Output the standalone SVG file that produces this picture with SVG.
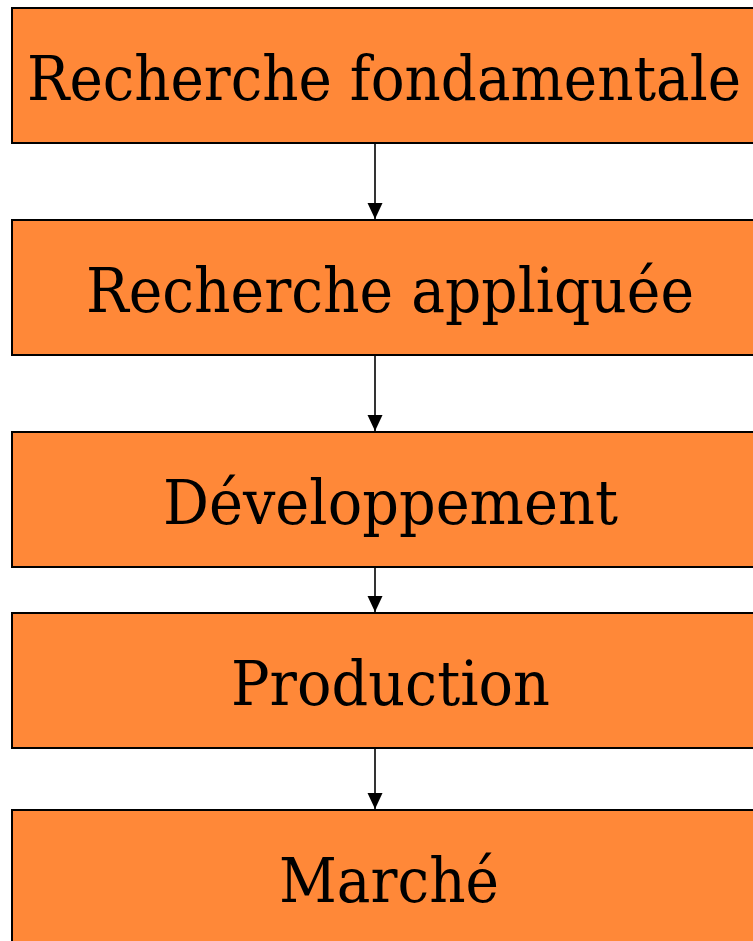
<svg xmlns="http://www.w3.org/2000/svg" width="753" height="941" viewBox="0 0 753 941">
<style>
.box{fill:#FF8838;stroke:#000;stroke-width:2}
.lbl{font-family:"DejaVu Serif","Liberation Serif",serif;font-size:61px;fill:#000}
.edge{stroke:#000;stroke-width:1.6;fill:none}
</style>
<defs>
<marker id="ah" markerUnits="userSpaceOnUse" markerWidth="16" markerHeight="16" viewBox="0 0 16 16" refX="16" refY="8" orient="auto">
<path d="M0,0.5 L16,8 L0,15.5 Z" fill="#000"/>
</marker>
</defs>
<rect width="753" height="941" fill="#fff"/>
<g id="connectors">
<line class="edge" x1="375" y1="143" x2="375" y2="219" marker-end="url(#ah)"/>
<line class="edge" x1="375" y1="355" x2="375" y2="431" marker-end="url(#ah)"/>
<line class="edge" x1="375" y1="567" x2="375" y2="612" marker-end="url(#ah)"/>
<line class="edge" x1="375" y1="748" x2="375" y2="809" marker-end="url(#ah)"/>
</g>
<g id="n1"><rect class="box" x="12" y="8" width="760" height="135"/><text class="lbl" x="27" y="100" textLength="714" lengthAdjust="spacingAndGlyphs">Recherche fondamentale</text></g>
<g id="n2"><rect class="box" x="12" y="220" width="760" height="135"/><text class="lbl" x="86" y="312" textLength="608" lengthAdjust="spacingAndGlyphs">Recherche appliquée</text></g>
<g id="n3"><rect class="box" x="12" y="432" width="760" height="135"/><text class="lbl" x="163" y="524" textLength="455" lengthAdjust="spacingAndGlyphs">Développement</text></g>
<g id="n4"><rect class="box" x="12" y="613" width="760" height="135"/><text class="lbl" x="231" y="705" textLength="319" lengthAdjust="spacingAndGlyphs">Production</text></g>
<g id="n5"><rect class="box" x="12" y="810" width="760" height="150"/><text class="lbl" x="279" y="902" textLength="220" lengthAdjust="spacingAndGlyphs">Marché</text></g>
</svg>
